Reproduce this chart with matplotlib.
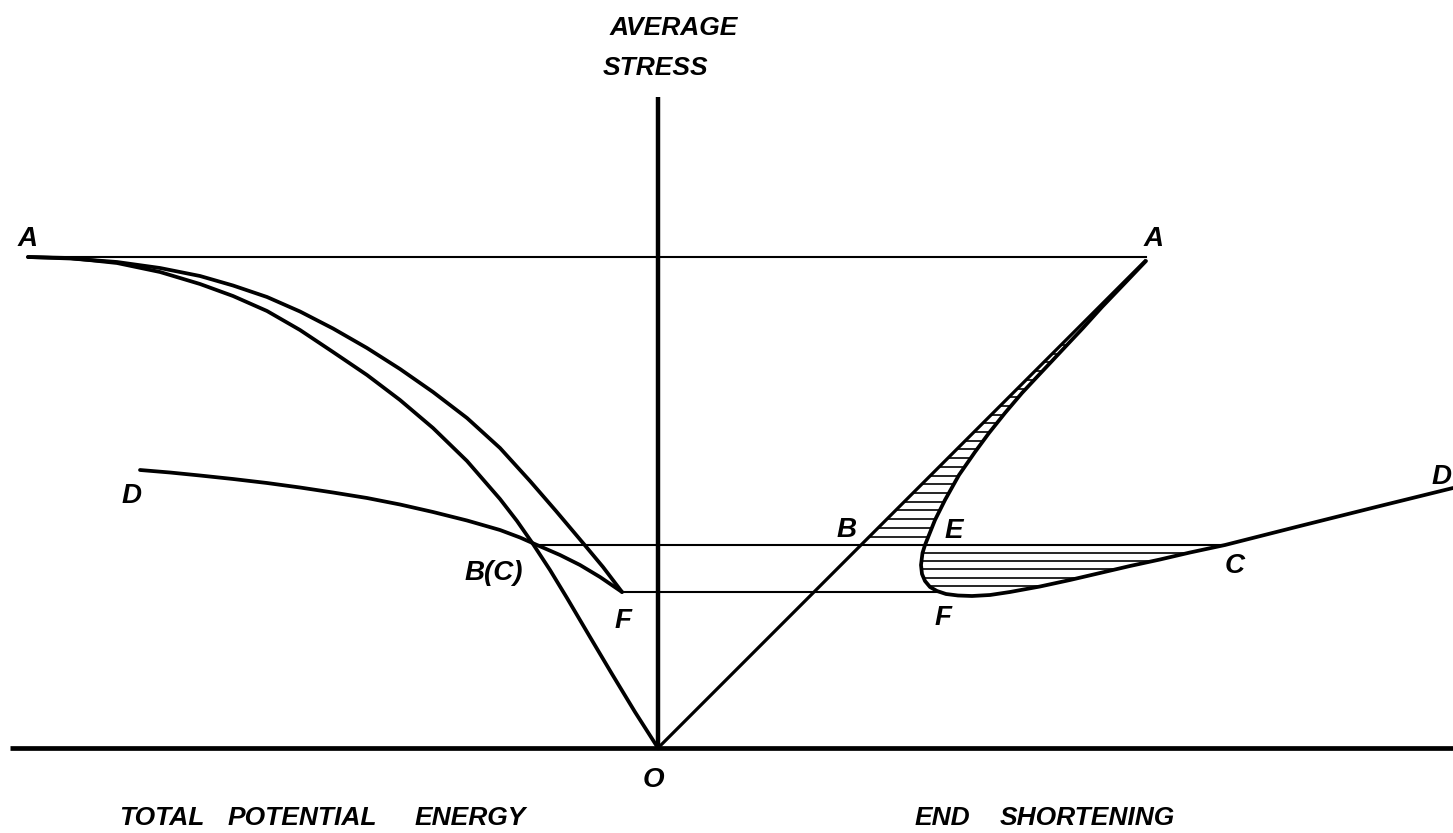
import numpy as np
import matplotlib
matplotlib.use("Agg")
import matplotlib.pyplot as plt
from matplotlib import font_manager

# ---------------- data (diagram coordinates, y grows downward) ----------------
origin = (658, 748)
axis_top = 97
base_left, base_right = 10, 1453

level_A = 257          # stress level of point A
level_B = 545          # stress level of B / C
level_F = 592          # stress level of F

line_A_span = (28, 1146)
line_B_span = (535, 1225)
line_F_span = (622, 940)

# straight loading line O -> A (end shortening side)
load_x = [658, 1145]
load_y = [748, 261]

# total potential energy: outer branch A -> B(C) -> O
pe_outer_x = [28, 70, 117, 160, 200, 233, 267, 300, 333, 367, 400, 433, 467, 500,
              517, 533, 550, 567, 590, 612, 635, 658]
pe_outer_y = [257, 258, 263, 272, 284, 296, 311, 330, 352, 375, 400, 428, 461, 499,
              521, 544, 570, 598, 637, 674, 712, 748]

# total potential energy: inner branch A -> F
pe_inner_x = [28, 70, 117, 160, 200, 233, 267, 300, 333, 367, 400, 433, 467, 500,
              530, 556, 583, 603, 622]
pe_inner_y = [257, 258.5, 262, 268, 276, 285.5, 297, 311.5, 328.5, 348, 369, 392, 418,
              448, 481, 511, 543, 567, 592]

# total potential energy: D -> B(C) -> F
pe_d_x = [140, 170, 200, 233, 267, 300, 333, 367, 400, 433, 467, 500, 520, 537,
          560, 580, 600, 622]
pe_d_y = [470, 472.5, 475.5, 479, 483, 487.5, 492.5, 498, 504.5, 512, 520.5, 530,
          537.5, 545, 555, 565, 577, 592]

# end shortening curve A -> E -> F -> C -> D
es_x = [1146, 1125, 1102, 1083, 1067, 1052, 1036, 1022, 1005, 989, 975, 959, 945,
        935, 929, 925, 922.5, 921, 922, 925, 930, 937, 946, 958, 972, 990, 1010,
        1040, 1070, 1100, 1130, 1160, 1190, 1225, 1300, 1380, 1453]
es_y = [261, 283, 307, 328, 345, 361, 378, 393, 413, 433, 452, 475, 500,
        520, 535, 545, 553, 565, 574, 581, 587, 591, 594, 595.5, 596, 595, 592,
        586.5, 580, 573, 566, 559.5, 552.5, 545, 526, 506, 488]

# ---------------- fonts ----------------
installed = {f.name for f in font_manager.fontManager.ttflist}
fam = ["Liberation Sans", "DejaVu Sans"] if "Liberation Sans" in installed else ["DejaVu Sans"]
plt.rcParams["font.family"] = fam

# ---------------- figure ----------------
fig = plt.figure(figsize=(14.53, 8.33), dpi=100)
ax = fig.add_axes([0, 0, 1, 1])
ax.set_xlim(0, 1453)
ax.set_ylim(833, 0)
ax.axis("off")

K = "black"
thick = 2.7
thin = 1.5

# axes of the diagram
ax.plot([base_left, base_right], [origin[1], origin[1]], color=K, lw=3.4, solid_capstyle="butt")
ax.plot([origin[0], origin[0]], [axis_top, origin[1]], color=K, lw=3.2, solid_capstyle="butt")

# horizontal construction lines
ax.plot(line_A_span, [level_A, level_A], color=K, lw=thin)
ax.plot(line_B_span, [level_B, level_B], color=K, lw=thin)
ax.plot(line_F_span, [level_F, level_F], color=K, lw=thin)

# curves
rk = dict(color=K, lw=thick, solid_joinstyle="round", solid_capstyle="round")
ax.plot(load_x, load_y, color=K, lw=thick - 0.4)
ax.plot(pe_outer_x, pe_outer_y, **rk)
ax.plot(pe_inner_x, pe_inner_y, **rk)
ax.plot(pe_d_x, pe_d_y, **rk)
ax.plot(es_x, es_y, **rk)

# ---------------- hatching ----------------
es_x_arr = np.array(es_x, float)
es_y_arr = np.array(es_y, float)
iE = es_y.index(level_B)                 # E point index on the curve
iBot = int(np.argmax(es_y_arr))          # lowest point of the loop
iC = len(es_y) - 1 - es_y[::-1].index(level_B)

# upper region: between loading line and curve, above B level
up_x, up_y = es_x_arr[:iE + 1], es_y_arr[:iE + 1]
for yy in np.arange(level_B - 8.5, 340, -8.7):
    xl = np.interp(yy, load_y[::-1], load_x[::-1])
    xr = np.interp(yy, up_y, up_x)
    if xr - xl > 2:
        ax.plot([xl, xr], [yy, yy], color=K, lw=1.2, solid_capstyle="butt")

# lower region: below B level, inside loop E-F-C
lo_left_x, lo_left_y = es_x_arr[iE:iBot + 1], es_y_arr[iE:iBot + 1]
lo_right_x, lo_right_y = es_x_arr[iBot:iC + 1][::-1], es_y_arr[iBot:iC + 1][::-1]
for yy in np.arange(level_B + 8, level_F + 1, 8.2):
    xl = np.interp(yy, lo_left_y, lo_left_x)
    xr = np.interp(yy, lo_right_y, lo_right_x)
    if xr - xl > 2:
        ax.plot([xl, xr], [yy, yy], color=K, lw=1.2, solid_capstyle="butt")

# ---------------- text ----------------
word_kw = dict(fontsize=19, fontweight="bold", fontstyle="italic",
               ha="left", va="baseline", color=K)
let_kw = dict(fontsize=20, fontweight="bold", fontstyle="italic",
              ha="left", va="baseline", color=K)

ax.text(610, 35, "AVERAGE", **word_kw)
ax.text(603, 75, "STRESS", **word_kw)
ax.text(119, 825, "TOTAL", **word_kw)
ax.text(228, 825, "POTENTIAL", **word_kw)
ax.text(415, 825, "ENERGY", **word_kw)
ax.text(915, 825, "END", **word_kw)
ax.text(1000, 825, "SHORTENING", **word_kw)

ax.text(18, 246, "A", **let_kw)
ax.text(1144, 246, "A", **let_kw)
ax.text(122, 503, "D", **let_kw)
ax.text(1432, 484, "D", **let_kw)
ax.text(465, 580, "B(C)", **let_kw)
ax.text(615, 628, "F", **let_kw)
ax.text(643, 787, "O", **let_kw)
ax.text(837, 537, "B", **let_kw)
ax.text(945, 538, "E", **let_kw)
ax.text(935, 625, "F", **let_kw)
ax.text(1225, 573, "C", **let_kw)

fig.savefig("out.png", dpi=100, facecolor="white")
